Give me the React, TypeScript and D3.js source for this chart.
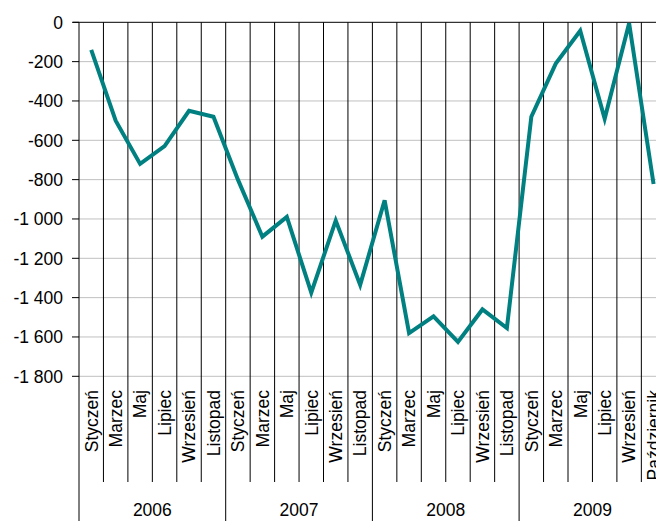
import React from "react";
import * as d3 from "d3";

const years = ["2006", "2007", "2008", "2009"];
const months = [
  "Styczeń", "Marzec", "Maj", "Lipiec", "Wrzesień", "Listopad",
  "Styczeń", "Marzec", "Maj", "Lipiec", "Wrzesień", "Listopad",
  "Styczeń", "Marzec", "Maj", "Lipiec", "Wrzesień", "Listopad",
  "Styczeń", "Marzec", "Maj", "Lipiec", "Wrzesień", "Październik",
];
const values = [
  -140, -500, -720, -630, -450, -480,
  -800, -1090, -990, -1375, -1008, -1335,
  -905, -1580, -1495, -1625, -1460, -1555,
  -480, -210, -43, -490, -5, -822,
];
const yTicks = [0, -200, -400, -600, -800, -1000, -1200, -1400, -1600, -1800];

const W = 656;
const H = 521;
const left = 79;
const band = 24.45;
const right = left + band * months.length;
const top = 22.3;
const bottomVal = 376.3;
const monthBottom = 482;

const fmt = (v: number) => {
  const s = Math.abs(v).toString().replace(/\B(?=(\d{3})+(?!\d))/g, " ");
  return v < 0 ? "-" + s : s;
};

export default function App() {
  const x = d3
    .scaleBand<number>()
    .domain(months.map((_, i) => i))
    .range([left, right])
    .paddingInner(0)
    .paddingOuter(0);
  const y = d3.scaleLinear().domain([0, -1800]).range([top, bottomVal]);
  const line = d3
    .line<number>()
    .x((_, i) => (x(i) as number) + x.bandwidth() / 2)
    .y((d) => y(d));

  const font = "'Liberation Sans', Arial, sans-serif";

  return (
    <svg
      width={W}
      height={H}
      style={{ position: "absolute", left: 0, top: 0, background: "#fff" }}
      fontFamily={font}
    >
      {yTicks.map((t) => (
        <line
          key={"g" + t}
          x1={t === 0 ? 73 : left}
          x2={right}
          y1={y(t)}
          y2={y(t)}
          stroke={t === 0 ? "#000" : "#c0c0c0"}
          strokeWidth={1}
        />
      ))}
      {yTicks.map((t) => (
        <line key={"tk" + t} x1={72} x2={left} y1={y(t)} y2={y(t)} stroke="#000" strokeWidth={1} />
      ))}
      {yTicks.map((t) => (
        <text
          key={"yl" + t}
          x={63}
          y={y(t)}
          dy="0.36em"
          textAnchor="end"
          fontSize={17.5}
          fill="#000"
        >
          {fmt(t)}
        </text>
      ))}
      {d3.range(0, months.length + 1).map((i) => {
        const xx = left + i * x.bandwidth();
        const isYear = i % 6 === 0;
        return (
          <line
            key={"v" + i}
            x1={xx}
            x2={xx}
            y1={top}
            y2={isYear ? H : monthBottom}
            stroke="#000"
            strokeWidth={1}
          />
        );
      })}
      {months.map((m, i) => {
        const cx = (x(i) as number) + x.bandwidth() / 2;
        return (
          <text
            key={"m" + i}
            transform={`translate(${cx},390) rotate(-90)`}
            dy="0.36em"
            textAnchor="end"
            fontSize={17.5}
            fill="#000"
          >
            {m}
          </text>
        );
      })}
      {years.map((yr, k) => {
        const cx = left + (k * 6 + 3) * x.bandwidth();
        return (
          <text key={yr} x={cx} y={510} dy="0.36em" textAnchor="middle" fontSize={17.5} fill="#000">
            {yr}
          </text>
        );
      })}
      <path d={line(values) || ""} fill="none" stroke="#008080" strokeWidth={4} />
    </svg>
  );
}
